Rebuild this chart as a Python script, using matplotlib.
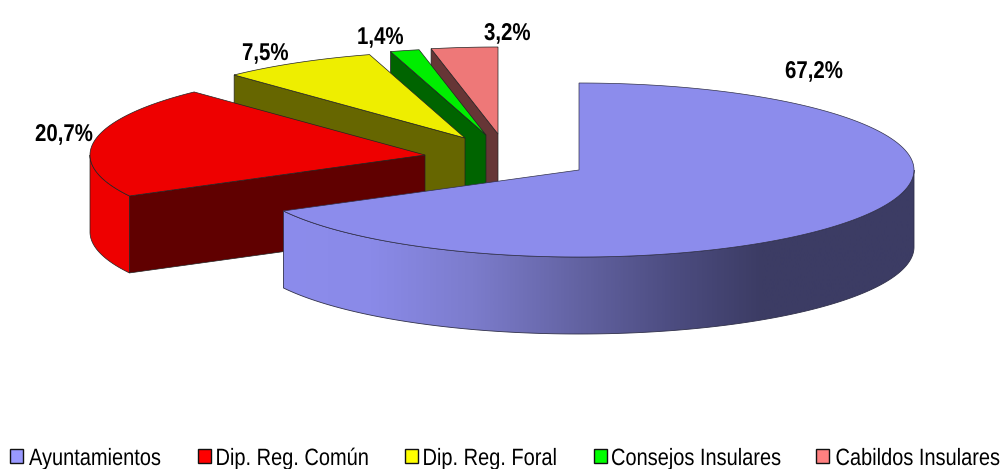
import numpy as np
import matplotlib
matplotlib.use("Agg")
import matplotlib.pyplot as plt
from matplotlib.patches import Polygon, Rectangle
from matplotlib.colors import LinearSegmentedColormap
from matplotlib.patheffects import AbstractPathEffect
from matplotlib.text import Text
from matplotlib.transforms import Affine2D, Bbox

categories = ["Ayuntamientos", "Dip. Reg. Común", "Dip. Reg. Foral", "Consejos Insulares", "Cabildos Insulares"]
values = [67.2, 20.7, 7.5, 1.4, 3.2]
value_labels = ["67,2%", "20,7%", "7,5%", "1,4%", "3,2%"]

top_colors = ["#8C8CEC", "#EE0000", "#EEEE00", "#00EE00", "#EE7878"]
face_colors = ["#3C3C64", "#600000", "#666600", "#006400", "#663636"]
legend_colors = ["#9999FF", "#FF0000", "#FFFF00", "#00FF00", "#FF8080"]

# Layout in pixels of the picture
apexes = [(579, 170), (425, 155), (465, 138), (486, 135), (498, 134)]
label_pos = [(785, 78), (35, 141), (242, 60), (357, 44), (484, 40)]
swatch_x = [10.5, 198.5, 405, 594, 816]
legend_text_x = [29, 215.5, 422.5, 611, 835.5]
RX, RY, DEPTH = 335, 87, 77
EDGE = "#30304a"
SANS = "Liberation Sans"
SX = 0.847


class XScale(AbstractPathEffect):
    """Condense the glyphs horizontally, as in the original narrow text."""

    def __init__(self, sx):
        super().__init__()
        self.sx = sx

    def draw_path(self, renderer, gc, tpath, affine, rgbFace=None):
        renderer.draw_path(gc, tpath, Affine2D().scale(self.sx, 1.0) + affine, rgbFace)


class CondensedText(Text):
    """Left-aligned text whose reported extent is the condensed one it draws."""

    def __init__(self, *args, sx=1.0, **kwargs):
        super().__init__(*args, **kwargs)
        self.sx = sx
        self.set_path_effects([XScale(sx)])

    def _get_layout(self, renderer):
        bbox, info, descent = super()._get_layout(renderer)
        bbox = Bbox.from_bounds(bbox.x0, bbox.y0, bbox.width * self.sx, bbox.height)
        return bbox, info, descent


fig = plt.figure(figsize=(10.03, 4.69), dpi=100)
ax = fig.add_axes([0, 0, 1, 1])
ax.set_xlim(0, 1003)
ax.set_ylim(469, 0)
ax.axis("off")

cum = np.cumsum([0] + values)
total = cum[-1]
starts = cum[:-1] / total * 360.0
ends = cum[1:] / total * 360.0


def rim(apex, a0, a1, dy=0.0, n=200):
    t = np.radians(np.linspace(a0, a1, n))
    return np.column_stack([apex[0] + RX * np.sin(t), apex[1] - RY * np.cos(t) + dy])


wall_cmap = LinearSegmentedColormap.from_list(
    "wall",
    [(0.0, "#8C8CEC"), (0.14, "#8A8AE8"), (0.30, "#7C7CCC"), (0.46, "#6464A4"),
     (0.62, "#4C4C80"), (0.76, "#3C3C64"), (1.0, "#3C3C64")],
)

# back to front, so the nearest slice covers the others
for i in [4, 3, 2, 1, 0]:
    apex, a0, a1 = apexes[i], starts[i], ends[i]
    z = 10 + (4 - i) * 3
    if i == 0:
        a0_vis, a1_vis = 90.0, a1
    else:
        a0_vis, a1_vis = a0, a1
        # radial face along the leading edge
        p = rim(apex, a0, a0, n=1)[0]
        face = [apex, tuple(p), (p[0], p[1] + DEPTH), (apex[0], apex[1] + DEPTH)]
        ax.add_patch(Polygon(face, closed=True, fc=face_colors[i], ec="#222222", lw=0.5, zorder=z))
    # outer wall (only the part facing the viewer)
    lo, hi = max(a0_vis, 90.0), min(a1_vis, 270.0)
    if hi > lo:
        upper = rim(apex, lo, hi)
        lower = rim(apex, lo, hi, dy=DEPTH)
        wall_pts = np.vstack([upper, lower[::-1]])
        if i == 0:
            poly = Polygon(wall_pts, closed=True, fc="none", ec="none", zorder=z + 1)
            ax.add_patch(poly)
            grad = np.linspace(0, 1, 512).reshape(1, -1)
            im = ax.imshow(grad, extent=(wall_pts[:, 0].min(), wall_pts[:, 0].max(), 469, 0),
                           cmap=wall_cmap, aspect="auto", zorder=z + 1, interpolation="bilinear")
            im.set_clip_path(poly)
            ax.add_patch(Polygon(wall_pts, closed=True, fc="none", ec=EDGE, lw=0.6, zorder=z + 1))
        else:
            ax.add_patch(Polygon(wall_pts, closed=True, fc=top_colors[i], ec="#222222", lw=0.5, zorder=z + 1))
    # top
    top = np.vstack([[apex], rim(apex, a0, a1)])
    ax.add_patch(Polygon(top, closed=True, fc=top_colors[i], ec="#222222" if i else EDGE, lw=0.5, zorder=z + 2))

ax.set_xlim(0, 1003)
ax.set_ylim(469, 0)

for lab, (x, y) in zip(value_labels, label_pos):
    ax.add_artist(CondensedText(x, y, lab, sx=0.84, ha="left", va="baseline", fontsize=17.5,
                                fontweight="bold", family=SANS, color="black", zorder=40))

# legend row
for name, col, sx0, tx in zip(categories, legend_colors, swatch_x, legend_text_x):
    ax.add_patch(Rectangle((sx0, 449.5), 13, 13.5, fc=col, ec="#111111", lw=1.0, zorder=40))
    ax.add_artist(CondensedText(tx, 465, name, sx=SX, ha="left", va="baseline", fontsize=17,
                                family=SANS, color="black", zorder=40, clip_on=False))

fig.savefig("out.png", dpi=100, facecolor="white")
